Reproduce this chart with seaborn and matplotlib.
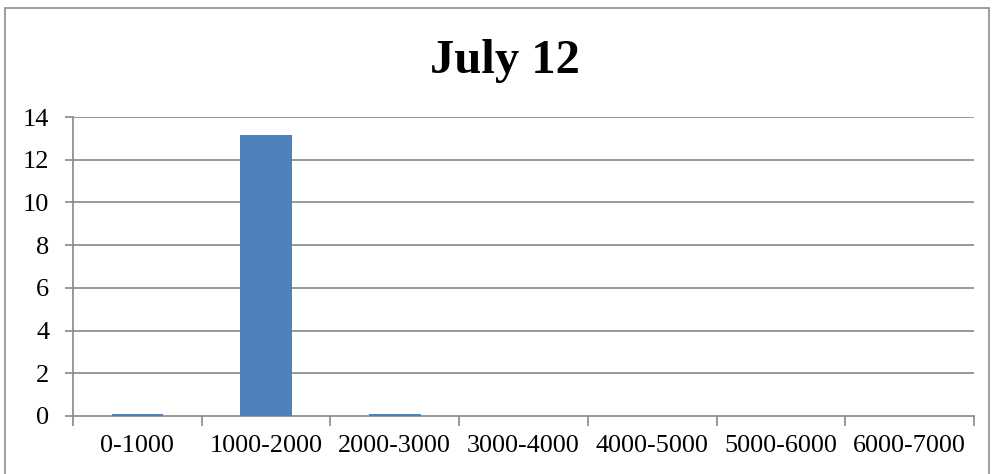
import matplotlib
matplotlib.use("Agg")
import matplotlib.pyplot as plt
import seaborn as sns
import pandas as pd
from matplotlib.patches import Rectangle

categories = ["0-1000", "1000-2000", "2000-3000", "3000-4000",
              "4000-5000", "5000-6000", "6000-7000"]
counts = [0.1, 13.17, 0.1, 0, 0, 0, 0]
y_ticks = [0, 2, 4, 6, 8, 10, 12, 14]
title = "July 12"

sns.set_theme(style="white")
plt.rcParams["font.family"] = ["Liberation Serif", "DejaVu Serif"]

W, H = 993, 474
fig = plt.figure(figsize=(W / 100, H / 100), dpi=100)
ax = fig.add_axes([73 / W, 1 - 416 / H, (974 - 73) / W, (416 - 117) / H])

df = pd.DataFrame({"range": categories, "count": counts})
sns.barplot(data=df, x="range", y="count", color="#4F81BD", width=0.4,
            saturation=1, linewidth=0, edgecolor="none", ax=ax, zorder=3)

grid_c = "#888888"
ax.set_ylim(0, 14)
ax.set_xlim(-0.5, len(categories) - 0.5)
ax.set_yticks(y_ticks)
ax.set_yticklabels([str(v) for v in y_ticks])
for v in y_ticks[1:]:
    ax.axhline(v, color=grid_c, lw=1.2, zorder=1)

# category boundary ticks on the x axis
ax.set_xticks(range(len(categories)))
ax.set_xticklabels(categories)
ax.set_xticks([i - 0.5 for i in range(len(categories) + 1)], minor=True)
ax.tick_params(axis="x", which="major", length=0, pad=13.5, labelsize=18.8,
               labelcolor="black")
ax.tick_params(axis="x", which="minor", length=7, width=1.2, color=grid_c,
               direction="out", bottom=True)
ax.tick_params(axis="y", length=6, width=1.2, color=grid_c, direction="out",
               left=True, pad=11, labelsize=19, labelcolor="black")

for side in ["top", "right"]:
    ax.spines[side].set_visible(False)
for side in ["left", "bottom"]:
    ax.spines[side].set_color(grid_c)
    ax.spines[side].set_linewidth(1.2)
    ax.spines[side].set_zorder(2)

ax.set_xlabel("")
ax.set_ylabel("")

fig.text(504.5 / W, 1 - 73 / H, title, ha="center", va="baseline",
         fontsize=35, fontweight="bold", color="black")

# chart border
fig.patches.append(Rectangle((5 / W, -0.01), (989 - 5) / W, 1 - 8 / H + 0.01,
                             transform=fig.transFigure, fill=False,
                             edgecolor="#8c8c8c", lw=1.2))

fig.savefig("out.png", dpi=100, facecolor="white")
